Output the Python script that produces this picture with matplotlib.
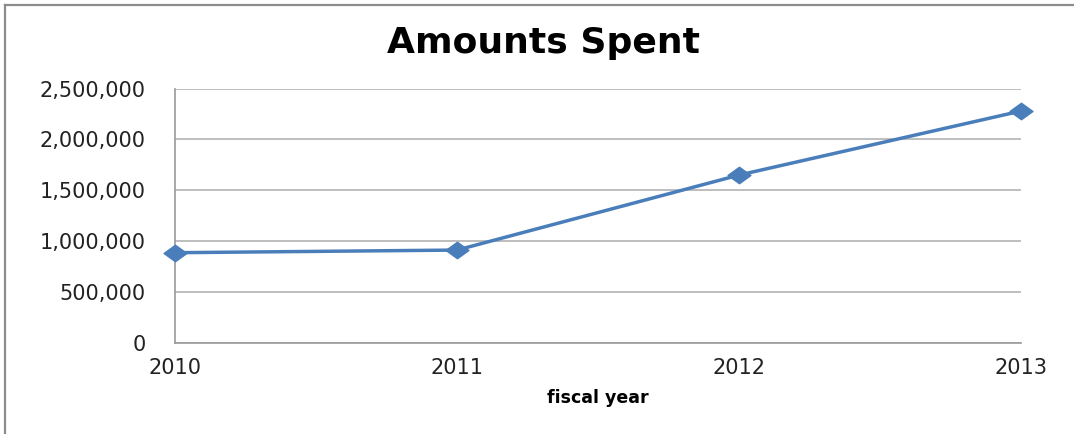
import matplotlib.pyplot as plt
import matplotlib.ticker as mticker
from matplotlib.lines import Line2D
from matplotlib.path import Path

# data
years = [2010, 2011, 2012, 2013]
amounts = [887000, 913000, 1650000, 2279000]
yticks = [0, 500000, 1000000, 1500000, 2000000, 2500000]

line_color = "#4a7ebb"
grid_color = "#b3b3b3"

# wide diamond like the excel one
diamond = Path([(-1.0, 0.0), (0.0, 0.72), (1.0, 0.0), (0.0, -0.72), (-1.0, 0.0)],
               [Path.MOVETO, Path.LINETO, Path.LINETO, Path.LINETO, Path.CLOSEPOLY])

fig = plt.figure(figsize=(10.74, 4.34), dpi=100)
ax = fig.add_axes([0.163, 0.2097, 0.7877, 0.5863])

ax.plot(years, amounts, color=line_color, lw=2.5, marker=diamond,
        markersize=16.5, markerfacecolor=line_color, markeredgecolor=line_color,
        clip_on=False, zorder=3)

ax.set_xlim(years[0], years[-1])
ax.set_ylim(yticks[0], yticks[-1])
ax.set_xticks(years)
ax.set_yticks(yticks)
ax.yaxis.set_major_formatter(mticker.FuncFormatter(lambda v, p: f"{int(v):,}"))

ax.grid(axis="y", color=grid_color, lw=1.2)
ax.set_axisbelow(True)
for side in ["top", "right"]:
    ax.spines[side].set_visible(False)
for side in ["left", "bottom"]:
    ax.spines[side].set_color("#999999")
    ax.spines[side].set_linewidth(1.2)

ax.tick_params(axis="both", length=0, labelsize=15, colors="#222222")
ax.tick_params(axis="y", pad=21)
ax.tick_params(axis="x", pad=11)

ax.set_xlabel("fiscal year", fontsize=12.5, fontweight="bold", labelpad=8)

fig.text(0.5056, 0.90, "Amounts Spent", fontsize=26, fontweight="bold",
         ha="center", va="center")

# chart frame (only top and left edges show in the crop)
fig.add_artist(Line2D([5 / 1074, 1.0], [1 - 5 / 434, 1 - 5 / 434],
                      transform=fig.transFigure, color="#8c8c8c", lw=1.6))
fig.add_artist(Line2D([5 / 1074, 5 / 1074], [0.0, 1 - 5 / 434],
                      transform=fig.transFigure, color="#8c8c8c", lw=1.6))

fig.savefig("out.png", dpi=100)
